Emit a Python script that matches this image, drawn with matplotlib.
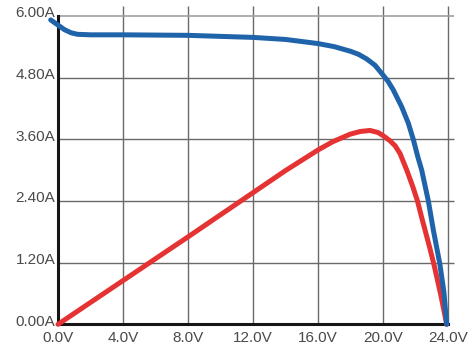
import matplotlib
matplotlib.use("Agg")
import matplotlib.pyplot as plt
from matplotlib.transforms import ScaledTranslation

# I-V curve (blue)
iv_volts = [-0.45, 0.0, 0.4, 0.8, 1.2, 2.0, 4.0, 8.0, 12.0, 14.0, 16.0, 17.0, 18.0,
            18.5, 19.0, 19.5, 19.92, 20.3, 20.63, 21.15, 21.56, 21.87, 22.14, 22.38,
            22.79, 23.1, 23.5, 23.75, 23.92]
iv_amps = [5.92, 5.82, 5.73, 5.67, 5.64, 5.63, 5.63, 5.62, 5.58, 5.54, 5.46, 5.40, 5.31,
           5.25, 5.16, 5.04, 4.88, 4.73, 4.56, 4.23, 3.91, 3.59, 3.26, 3.00,
           2.40, 1.83, 1.17, 0.62, 0.0]

# power curve (red), drawn on the same amp scale
pv_volts = [0.0, 4.0, 8.0, 12.0, 14.0, 15.0, 16.0, 16.9, 18.0, 18.6, 19.2, 19.7, 20.0,
            20.43, 20.75, 21.05, 21.46, 21.83, 22.12, 22.42, 22.59, 22.9, 23.16, 23.55,
            23.92]
pv_amps = [0.0, 0.85, 1.70, 2.56, 2.99, 3.19, 3.39, 3.55, 3.70, 3.75, 3.77, 3.73, 3.67,
           3.57, 3.47, 3.32, 3.00, 2.68, 2.40, 2.03, 1.83, 1.46, 1.13, 0.58,
           0.0]

x_ticks = [0, 4, 8, 12, 16, 20, 24]
y_ticks = [0.0, 1.2, 2.4, 3.6, 4.8, 6.0]
x_labels = ["0.0V", "4.0V", "8.0V", "12.0V", "16.0V", "20.0V", "24.0V"]
y_labels = ["0.00A", "1.20A", "2.40A", "3.60A", "4.80A", "6.00A"]

plt.rcParams['font.family'] = ['Liberation Sans', 'DejaVu Sans']

fig = plt.figure(figsize=(4.7, 3.5), dpi=100)
ax = fig.add_axes([58 / 470, (350 - 324.3) / 350, 390 / 470, 308.5 / 350])
ax.set_xlim(0, 24)
ax.set_ylim(0, 6)

# grid lines, sticking out a bit past the plot edge like the original
ax.vlines(x_ticks[1:], 0, 6.2, colors="#6a6a6a", lw=1.0, clip_on=False, zorder=1)
ax.hlines(y_ticks[1:5], 0, 24.37, colors="#6a6a6a", lw=1.0, clip_on=False, zorder=1)
ax.hlines(y_ticks[5], 0, 24.37, colors="#a0a0a0", lw=1.2, clip_on=False, zorder=1)

ax.plot(pv_volts, pv_amps, color="#e53232", lw=3.6, clip_on=False, zorder=5,
        solid_capstyle="round", solid_joinstyle="round")
ax.plot(iv_volts, iv_amps, color="#1f63ab", lw=3.6, clip_on=False, zorder=6,
        solid_capstyle="round", solid_joinstyle="round")

for side in ["top", "right"]:
    ax.spines[side].set_visible(False)
for side in ["left", "bottom"]:
    ax.spines[side].set_linewidth(2.2)
    ax.spines[side].set_color("#151515")
    ax.spines[side].set_zorder(4)

ax.set_xticks(x_ticks)
ax.set_xticklabels(x_labels)
ax.set_yticks(y_ticks)
ax.set_yticklabels(y_labels)
ax.tick_params(axis="both", length=0, labelsize=11, labelcolor="#4a4a4a")
ax.tick_params(axis="x", pad=5)
ax.tick_params(axis="y", pad=2)

offset = ScaledTranslation(0, 3 / 72, fig.dpi_scale_trans)
for lab in ax.get_yticklabels():
    lab.set_transform(lab.get_transform() + offset)

fig.savefig("out.png", dpi=100)
